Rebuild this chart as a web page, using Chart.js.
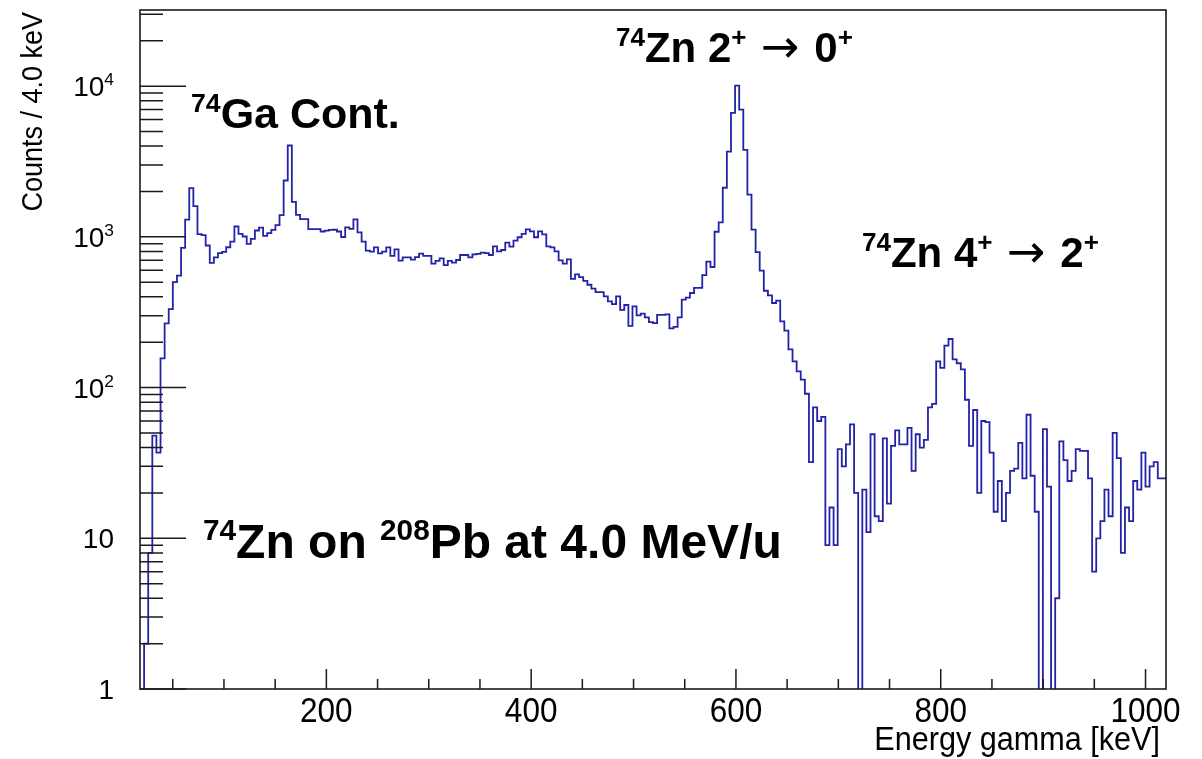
<!DOCTYPE html>
<html>
<head>
<meta charset="utf-8">
<title>Espectro gamma 74Zn</title>
<script src="https://cdn.jsdelivr.net/npm/chart.js@4.4.1/dist/chart.umd.min.js"></script>
<style>
    html, body { margin: 0; padding: 0; background: #ffffff; }
    #contenedor { width: 1202px; height: 759px; position: relative; }
</style>
</head>
<body>
<div id="contenedor"><canvas id="espectro"></canvas></div>
<script>
// ====================================================================
// DATOS DEL ESPECTRO - cuentas por bin de 4.0 keV
// ====================================================================

const E_MIN = 18;        // keV, borde inferior del primer bin
const E_MAX = 1020;      // keV, borde superior del último bin
const N_BINS = 250;
const Y_MIN = 1;
const Y_MAX = 32000;

// Bins 0-49 (18 - 218 keV)
const cuentasBloque0 = [
    0, 0, 2, 8, 48, 37, 156, 267, 331, 500,
    553, 845, 1303, 2104, 1599, 1041, 1026, 876, 672, 730,
    779, 795, 853, 931, 1171, 1047, 1005, 899, 970, 1102,
    1153, 1015, 1057, 1113, 1195, 1392, 2366, 4036, 1706, 1400,
    1310, 1310, 1125, 1125, 1125, 1085, 1100, 1113, 1115, 1085
];

// Bins 50-99 (218 - 419 keV)
const cuentasBloque1 = [
    998, 1156, 1130, 1306, 1071, 929, 809, 797, 852, 778,
    797, 852, 747, 827, 695, 731, 731, 706, 733, 773,
    747, 747, 664, 692, 720, 650, 692, 674, 702, 758,
    758, 730, 766, 770, 786, 780, 758, 865, 801, 818,
    916, 861, 944, 994, 1045, 1122, 1088, 994, 1088, 1040
];

// Bins 100-149 (419 - 619 keV), incluye el pico 2+ -> 0+
const cuentasBloque2 = [
    865, 852, 801, 698, 664, 709, 527, 563, 541, 511,
    481, 453, 430, 430, 403, 373, 358, 403, 328, 353,
    257, 346, 301, 309, 292, 272, 268, 304, 304, 306,
    247, 253, 292, 383, 395, 424, 459, 459, 558, 684,
    631, 1081, 1247, 2118, 3673, 6637, 10090, 6984, 3773, 1906
];

// Bins 150-199 (619 - 820 keV), incluye el pico 4+ -> 2+
const cuentasBloque3 = [
    1116, 792, 597, 439, 409, 364, 377, 275, 239, 179,
    149, 128, 113, 91, 32, 74, 60, 64, 9, 16,
    9, 39, 30, 42, 57, 20, 0, 21, 11, 49,
    14, 13, 46, 17, 41, 52, 42, 42, 54, 28,
    49, 40, 45, 74, 78, 149, 135, 190, 210, 154
];

// Bins 200-249 (820 - 1020 keV)
const cuentasBloque4 = [
    145, 132, 83, 41, 71, 20, 60, 59, 37, 15,
    24, 13, 20, 28, 29, 43, 25, 66, 26, 15,
    0, 53, 22, 0, 4, 44, 33, 24, 28, 39,
    38, 38, 25, 6, 10, 13, 21, 14, 50, 34,
    8, 16, 13, 24, 21, 37, 22, 30, 32, 25
];

// Marcas de los ejes
const ticksEnergia = [200, 400, 600, 800, 1000];
const ticksEnergiaMenores = [50, 100, 150, 250, 300, 350, 450, 500, 550, 650, 700, 750, 850, 900, 950];
const ticksDecadas = [1, 10, 100, 1000, 10000];
const etiquetasDecadas = [
    [{ t: '1' }],
    [{ t: '10' }],
    [{ t: '10' }, { t: '2', sup: true }],
    [{ t: '10' }, { t: '3', sup: true }],
    [{ t: '10' }, { t: '4', sup: true }]
];

const tituloEjeX = 'Energy gamma [keV]';
const tituloEjeY = 'Counts / 4.0 keV';

// Rótulos sobre el espectro (posición en píxeles del lienzo)
const FLECHA = { t: ' \u2192 ', fuente: 'normal 46px "DejaVu Sans", sans-serif' };
const rotulos = [
    { x: 191, y: 128, tam: 43, partes: [{ t: '74', sup: true }, { t: 'Ga Cont.' }] },
    { x: 616, y: 62, tam: 42, partes: [{ t: '74', sup: true }, { t: 'Zn 2' }, { t: '+', sup: true }, FLECHA, { t: '0' }, { t: '+', sup: true }] },
    { x: 862, y: 267, tam: 42, partes: [{ t: '74', sup: true }, { t: 'Zn 4' }, { t: '+', sup: true }, FLECHA, { t: '2' }, { t: '+', sup: true }] },
    { x: 203, y: 558, tam: 48, partes: [{ t: '74', sup: true }, { t: 'Zn on ' }, { t: '208', sup: true }, { t: 'Pb at 4.0 MeV/u' }] }
];

const FUENTE = '"Liberation Sans", Arial, Helvetica, sans-serif';
const COLOR_HISTO = '#2323a8';
const COLOR_EJE = '#1a1a1a';

// ====================================================================
// CONSTRUCCIÓN DE LOS PUNTOS DEL HISTOGRAMA
// ====================================================================

const cuentas = [].concat(cuentasBloque0, cuentasBloque1, cuentasBloque2, cuentasBloque3, cuentasBloque4);
const anchoBin = (E_MAX - E_MIN) / N_BINS;
// Los bins vacíos se llevan por debajo del eje para que la línea baje hasta el marco
const PISO = 0.05;

const puntosHisto = cuentas.map((c, i) => ({ x: E_MIN + i * anchoBin, y: c > 0 ? c : PISO }));
puntosHisto.push({ x: E_MAX, y: cuentas[cuentas.length - 1] > 0 ? cuentas[cuentas.length - 1] : PISO });

// ====================================================================
// TEXTO CON SUPERÍNDICES Y TEXTO ESTRECHO
// ====================================================================

function fuenteParte(p, tam, pesoBase) {
    if (p.fuente) return p.fuente;
    return `${pesoBase} ${p.sup ? tam * 0.62 : tam}px ${FUENTE}`;
}

function dibujarTexto(c, partes, x, y, tam, pesoBase, alinear) {
    let ancho = 0;
    const anchos = partes.map(p => {
        c.font = fuenteParte(p, tam, pesoBase);
        const w = c.measureText(p.t).width;
        ancho += w;
        return w;
    });
    let cx = alinear === 'right' ? x - ancho : x;
    c.textAlign = 'left';
    c.textBaseline = 'alphabetic';
    partes.forEach((p, i) => {
        c.font = fuenteParte(p, tam, pesoBase);
        c.fillText(p.t, cx, p.sup ? y - tam * 0.38 : y);
        cx += anchos[i];
    });
}

// Texto algo comprimido en horizontal, como las etiquetas de ROOT
function textoEstrecho(c, texto, x, y, tam, alinear, angulo) {
    c.save();
    c.translate(x, y);
    if (angulo) c.rotate(angulo);
    c.scale(0.9, 1);
    c.font = `${tam}px ${FUENTE}`;
    c.textAlign = alinear;
    c.textBaseline = 'alphabetic';
    c.fillText(texto, 0, 0);
    c.restore();
}

// ====================================================================
// PLUGIN: marco, marcas hacia dentro, etiquetas y rótulos (estilo ROOT)
// ====================================================================

const pluginMarcoRoot = {
    id: 'marcoRoot',
    afterDraw(chart) {
        const c = chart.ctx;
        const area = chart.chartArea;
        const sx = chart.scales.x;
        const sy = chart.scales.y;

        c.save();
        c.strokeStyle = COLOR_EJE;
        c.fillStyle = '#000000';

        // Marco
        c.lineWidth = 1.6;
        c.strokeRect(area.left, area.top, area.right - area.left, area.bottom - area.top);

        // Marcas del eje X
        c.lineWidth = 1.5;
        c.beginPath();
        ticksEnergia.forEach(v => {
            const px = sx.getPixelForValue(v);
            c.moveTo(px, area.bottom);
            c.lineTo(px, area.bottom - 20);
        });
        ticksEnergiaMenores.forEach(v => {
            const px = sx.getPixelForValue(v);
            c.moveTo(px, area.bottom);
            c.lineTo(px, area.bottom - 10);
        });
        c.stroke();

        // Marcas del eje Y (logarítmico)
        c.beginPath();
        ticksDecadas.forEach(d => {
            for (let m = 1; m <= 9; m++) {
                const v = d * m;
                if (v > Y_MAX) break;
                const py = sy.getPixelForValue(v);
                const largo = m === 1 ? 46 : 23;
                c.moveTo(area.left, py);
                c.lineTo(area.left + largo, py);
            }
        });
        c.stroke();

        // Etiquetas del eje X
        ticksEnergia.forEach(v => {
            textoEstrecho(c, String(v), sx.getPixelForValue(v), area.bottom + 33, 35, 'center');
        });

        // Etiquetas del eje Y
        ticksDecadas.forEach((d, i) => {
            const py = sy.getPixelForValue(d);
            dibujarTexto(c, etiquetasDecadas[i], 114, py + 10, 28, 'normal', 'right');
        });

        // Títulos de los ejes
        textoEstrecho(c, tituloEjeX, area.right - 6, 750, 34, 'right');
        textoEstrecho(c, tituloEjeY, 42, 12, 30, 'right', -Math.PI / 2);

        // Rótulos de las transiciones
        rotulos.forEach(r => dibujarTexto(c, r.partes, r.x, r.y, r.tam, 'bold', 'left'));

        c.restore();
    }
};

// ====================================================================
// GRÁFICO
// ====================================================================

const ctx = document.getElementById('espectro').getContext('2d');

const graficoEspectro = new Chart(ctx, {
    type: 'line',
    data: {
        datasets: [{
            label: tituloEjeY,
            data: puntosHisto,
            stepped: 'after',
            borderColor: COLOR_HISTO,
            borderWidth: 1.8,
            pointRadius: 0,
            fill: false,
            tension: 0
        }]
    },
    options: {
        responsive: true,
        maintainAspectRatio: false,
        animation: false,
        layout: {
            padding: { left: 0, right: 36, top: 10, bottom: 0 }
        },
        plugins: {
            legend: { display: false },
            tooltip: { enabled: false }
        },
        scales: {
            x: {
                type: 'linear',
                min: E_MIN,
                max: E_MAX,
                grid: { display: false },
                border: { display: false },
                ticks: { display: false },
                afterFit: function(escala) { escala.height = 70; }
            },
            y: {
                type: 'logarithmic',
                min: Y_MIN,
                max: Y_MAX,
                grid: { display: false },
                border: { display: false },
                ticks: { display: false },
                afterFit: function(escala) { escala.width = 140; }
            }
        }
    },
    plugins: [pluginMarcoRoot]
});
</script>
</body>
</html>
